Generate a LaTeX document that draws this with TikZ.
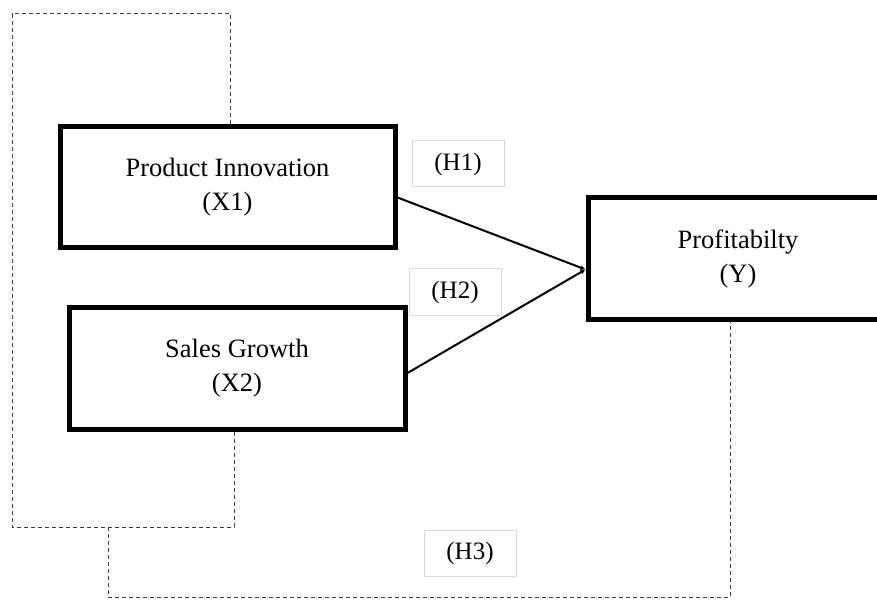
\documentclass[tikz,border=0pt]{standalone}
\usepackage{fontspec}
\setmainfont{Liberation Serif}
\usepackage{tikz}
\usetikzlibrary{positioning,calc,arrows.meta}
\tikzset{varbox/.style={draw, line width=5pt, align=center, inner sep=0pt, font=\fontsize{26.5}{34}\selectfont}}
\tikzset{hyplab/.style={draw=black!15, line width=1pt, minimum width=92pt, minimum height=46pt, inner sep=0pt, font=\fontsize{25}{30}\selectfont}}
\tikzset{arr/.style={draw, line width=2pt, -{Latex[length=5pt,width=5pt]}}}
\tikzset{dline/.style={draw=black!75, line width=1pt, dash pattern=on 4pt off 3pt}}

\begin{document}
\begin{tikzpicture}[x=1pt,y=-1pt]
	\useasboundingbox (0,0) rectangle (877,601);
	\clip (0,0) rectangle (877,601);
	% variables
	\node[varbox, minimum width=335pt, minimum height=121pt] (X1) at (227.5,187.5)
		{Product Innovation\\(X1)};
	\node[varbox, minimum width=336pt, minimum height=122pt] (X2) at (237,368)
		{Sales Growth\\(X2)};
	\node[varbox, minimum width=300pt, minimum height=121pt] (Y) at (738,258.5)
		{Profitabilty\\(Y)};
	% hypotheses
	\node[hyplab] (H1) at (458,164) {(H1)};
	\node[hyplab] (H2) at (455,292) {(H2)};
	\node[hyplab] (H3) at (470,553) {(H3)};
	% direct paths
	\coordinate (meet) at ([yshift=-11pt]Y.west);
	\draw[arr] ([yshift=-10pt]X1.east) -- (meet);
	\draw[arr] ([yshift=-5pt]X2.east) -- (meet);
	% joint path
	\coordinate (tl) at (12,14);
	\coordinate (bl) at (12,527);
	\coordinate (jn) at (108,527);
	\coordinate (br) at (730,597);
	\draw[dline] ([xshift=3pt]X1.north) -- ([xshift=3pt]X1.north |- tl) -- (tl)
		-- (bl) -- ([xshift=-3pt]X2.south |- bl) -- ([xshift=-3pt]X2.south);
	\draw[dline] (jn) |- (br) -- (br |- Y.south);
\end{tikzpicture}
\end{document}
